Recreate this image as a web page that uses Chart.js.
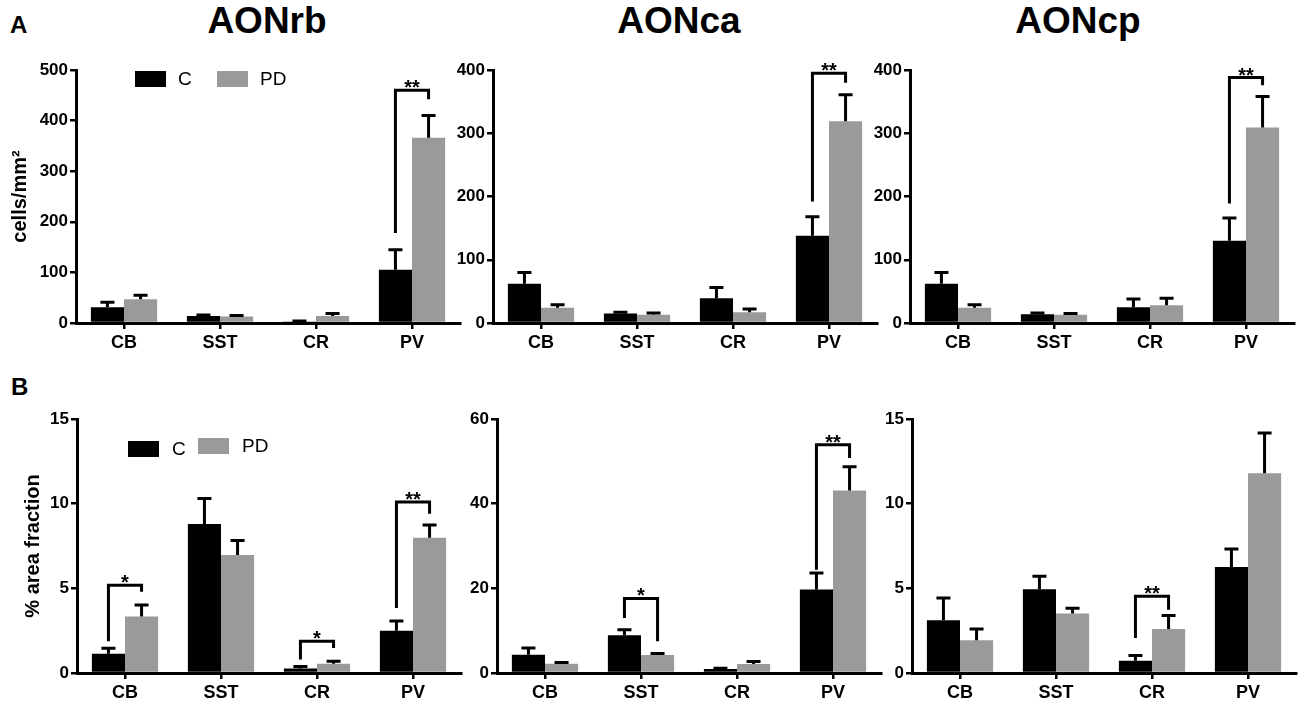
<!DOCTYPE html>
<html>
<head>
<meta charset="utf-8">
<script src="https://cdn.jsdelivr.net/npm/chart.js@4.4.1/dist/chart.umd.min.js"></script>
<style>
  body { margin: 0; background: #fff; width: 1300px; height: 706px; position: relative; overflow: hidden;
         font-family: "Liberation Sans", Arial, sans-serif; }
  .lbl { position: absolute; font-weight: bold; color: #000; white-space: nowrap; }
  .ttl { position: absolute; font-weight: bold; color: #000; font-size: 37px; line-height: 37px; width: 300px; text-align: center; }
  .panel { position: absolute; }
</style>
</head>
<body>
<div class="lbl" style="left:10px;top:13px;font-size:24px;line-height:24px;">A</div>
<div class="lbl" style="left:11px;top:375px;font-size:24px;line-height:24px;">B</div>
<div class="ttl" style="left:117px;top:2px;">AONrb</div>
<div class="ttl" style="left:529px;top:2px;">AONca</div>
<div class="ttl" style="left:928px;top:2px;">AONcp</div>

<script>
    "use strict";

    // Kategorije (markeri)
    const categories = ['CB', 'SST', 'CR', 'PV'];

    // Tick oznake
    const ticksRbCells = [0, 100, 200, 300, 400, 500];
    const ticksCells = [0, 100, 200, 300, 400];
    const ticksArea15 = [0, 5, 10, 15];
    const ticksArea60 = [0, 20, 40, 60];

    // A: cells/mm2 (srednja vrednost i SEM)
    const rbCellsC = [31, 14, 3, 105];
    const rbCellsCErr = [10, 2, 1, 40];
    const rbCellsPD = [47, 13, 14, 366];
    const rbCellsPDErr = [8, 2, 5, 44];

    const caCellsC = [62, 15, 39, 138];
    const caCellsCErr = [18, 2, 17, 30];
    const caCellsPD = [24, 13, 17, 319];
    const caCellsPDErr = [5, 3, 5, 42];

    const cpCellsC = [62, 14, 25, 130];
    const cpCellsCErr = [18, 2, 13, 36];
    const cpCellsPD = [24, 13, 28, 309];
    const cpCellsPDErr = [5, 2, 11, 49];

    // B: % area fraction
    const rbAreaC = [1.14, 8.8, 0.26, 2.5];
    const rbAreaCErr = [0.32, 1.5, 0.13, 0.57];
    const rbAreaPD = [3.33, 6.97, 0.55, 7.99];
    const rbAreaPDErr = [0.69, 0.86, 0.14, 0.75];

    const caAreaC = [4.3, 8.9, 0.95, 19.7];
    const caAreaCErr = [1.6, 1.3, 0.15, 3.9];
    const caAreaPD = [2.2, 4.25, 2.1, 43.1];
    const caAreaPDErr = [0.3, 0.35, 0.6, 5.6];

    const cpAreaC = [3.11, 4.94, 0.73, 6.26];
    const cpAreaCErr = [1.32, 0.77, 0.31, 1.06];
    const cpAreaPD = [1.93, 3.52, 2.6, 11.8];
    const cpAreaPDErr = [0.67, 0.3, 0.8, 2.37];

    // Oznake znacajnosti: [kategorija, vrh, leva noga, desna noga, tekst]
    const rbCellsSig = [[3, 460, 178, 442, '**']];
    const caCellsSig = [[3, 395, 192, 380, '**']];
    const cpCellsSig = [[3, 388, 189, 376, '**']];
    const rbAreaSig = [[0, 5.18, 1.87, 4.8, '*'], [2, 1.87, 0.79, 1.48, '*'], [3, 10.1, 3.84, 9.4, '**']];
    const caAreaSig = [[1, 17.6, 13, 7.5, '*'], [3, 53.9, 24.4, 50.8, '**']];
    const cpAreaSig = [[2, 4.53, 2.07, 3.74, '**']];

    const BLACK = '#000000';
    const GRAY = '#9a9a9d';
    const FONT = '"Liberation Sans", Arial, sans-serif';

    // Plugin za error barove, zagrade i legendu
    const extrasPlugin = {
        id: 'extras',
        afterDatasetsDraw(chart, args, opts) {
            const ctx = chart.ctx;
            const y = chart.scales.y;
            ctx.save();
            ctx.strokeStyle = BLACK;
            ctx.lineWidth = 3;
            ctx.lineCap = 'butt';
            chart.data.datasets.forEach(function(ds, di) {
                const meta = chart.getDatasetMeta(di);
                meta.data.forEach(function(bar, i) {
                    const yTop = y.getPixelForValue(ds.data[i] + ds.err[i]);
                    ctx.beginPath();
                    ctx.moveTo(bar.x, bar.y);
                    ctx.lineTo(bar.x, yTop);
                    ctx.moveTo(bar.x - 7, yTop);
                    ctx.lineTo(bar.x + 7, yTop);
                    ctx.stroke();
                });
            });

            // Zagrade sa zvezdicama
            const m0 = chart.getDatasetMeta(0);
            const m1 = chart.getDatasetMeta(1);
            ctx.lineJoin = 'miter';
            ctx.fillStyle = BLACK;
            ctx.font = 'bold 20px ' + FONT;
            ctx.textAlign = 'center';
            ctx.textBaseline = 'alphabetic';
            (opts.sig || []).forEach(function(s) {
                const lx = m0.data[s[0]].x;
                const rx = m1.data[s[0]].x;
                const pt = y.getPixelForValue(s[1]);
                ctx.beginPath();
                ctx.moveTo(lx, y.getPixelForValue(s[2]));
                ctx.lineTo(lx, pt);
                ctx.lineTo(rx, pt);
                ctx.lineTo(rx, y.getPixelForValue(s[3]));
                ctx.stroke();
                ctx.fillText(s[4], (lx + rx) / 2, pt + 4);
            });

            // Legenda
            if (opts.legend) {
                ctx.font = '19px ' + FONT;
                ctx.textAlign = 'left';
                ctx.textBaseline = 'middle';
                opts.legend.forEach(function(item, di) {
                    const ds = chart.data.datasets[di];
                    ctx.fillStyle = ds.backgroundColor;
                    ctx.fillRect(item[0], item[1], 31, 16);
                    ctx.fillStyle = BLACK;
                    ctx.fillText(ds.label, item[2], item[1] + 9);
                });
            }
            ctx.restore();
        }
    };

    const panels = [
        { axisX: 76, top: 70, bottom: 323, ticks: ticksRbCells, c: rbCellsC, cErr: rbCellsCErr, pd: rbCellsPD, pdErr: rbCellsPDErr,
          sig: rbCellsSig, yTitle: 'cells/mm²', titlePad: 8, legend: [[135, 71, 178], [217, 71, 260]] },
        { axisX: 493, top: 70, bottom: 323, ticks: ticksCells, c: caCellsC, cErr: caCellsCErr, pd: caCellsPD, pdErr: caCellsPDErr,
          sig: caCellsSig },
        { axisX: 910, top: 70, bottom: 323, ticks: ticksCells, c: cpCellsC, cErr: cpCellsCErr, pd: cpCellsPD, pdErr: cpCellsPDErr,
          sig: cpCellsSig },
        { axisX: 77, top: 419, bottom: 673, ticks: ticksArea15, c: rbAreaC, cErr: rbAreaCErr, pd: rbAreaPD, pdErr: rbAreaPDErr,
          sig: rbAreaSig, yTitle: '% area fraction', titlePad: 21, legend: [[128, 441, 172], [198, 438, 242]] },
        { axisX: 497, top: 419, bottom: 673, ticks: ticksArea60, c: caAreaC, cErr: caAreaCErr, pd: caAreaPD, pdErr: caAreaPDErr,
          sig: caAreaSig },
        { axisX: 912, top: 419, bottom: 673, ticks: ticksArea15, c: cpAreaC, cErr: cpAreaCErr, pd: cpAreaPD, pdErr: cpAreaPDErr,
          sig: cpAreaSig }
    ];

    const PAD_TOP = 40;
    const X_H = 36;
    const AREA_W = 384;

    panels.forEach(function(p) {
        const yw = p.yTitle ? p.axisX : 70;
        const left = p.axisX - yw;
        const top = p.top - PAD_TOP;
        const w = yw + AREA_W + 4;
        const h = PAD_TOP + (p.bottom - p.top) + X_H;

        const div = document.createElement('div');
        div.className = 'panel';
        div.style.left = left + 'px';
        div.style.top = top + 'px';
        const canvas = document.createElement('canvas');
        canvas.width = w;
        canvas.height = h;
        div.appendChild(canvas);
        document.body.appendChild(div);

        const legend = p.legend ? p.legend.map(function(it) {
            return [it[0] - left, it[1] - top, it[2] - left];
        }) : null;

        new Chart(canvas.getContext('2d'), {
            type: 'bar',
            data: {
                labels: categories,
                datasets: [
                    { label: 'C', data: p.c, err: p.cErr, backgroundColor: BLACK },
                    { label: 'PD', data: p.pd, err: p.pdErr, backgroundColor: GRAY }
                ]
            },
            options: {
                responsive: false,
                animation: false,
                events: [],
                layout: { padding: { top: PAD_TOP, right: 4, bottom: 0, left: 0 } },
                datasets: { bar: { barPercentage: 1.0, categoryPercentage: 0.69, borderWidth: 0 } },
                plugins: {
                    legend: { display: false },
                    tooltip: { enabled: false },
                    extras: { sig: p.sig, legend: legend }
                },
                scales: {
                    x: {
                        offset: true,
                        grid: { offset: false, drawOnChartArea: false, drawTicks: true, tickLength: 6, color: BLACK, lineWidth: 2.5 },
                        border: { display: true, color: BLACK, width: 3 },
                        ticks: { color: BLACK, padding: 3, font: { family: FONT, size: 18, weight: 'bold' } },
                        afterFit: function(s) { s.height = X_H; }
                    },
                    y: {
                        min: 0,
                        max: p.ticks[p.ticks.length - 1],
                        afterBuildTicks: function(s) { s.ticks = p.ticks.map(function(v) { return { value: v }; }); },
                        grid: { drawOnChartArea: false, drawTicks: true, tickLength: 6, color: BLACK, lineWidth: 2.5 },
                        border: { display: true, color: BLACK, width: 3 },
                        ticks: { color: BLACK, padding: 2, font: { family: FONT, size: 17, weight: 'bold' } },
                        title: p.yTitle ? { display: true, text: p.yTitle, color: BLACK,
                            font: { family: FONT, size: 20, weight: 'bold' }, padding: { top: p.titlePad, bottom: 0 } } : { display: false },
                        afterFit: function(s) { s.width = yw; }
                    }
                }
            },
            plugins: [extrasPlugin]
        });
    });
</script>
</body>
</html>
